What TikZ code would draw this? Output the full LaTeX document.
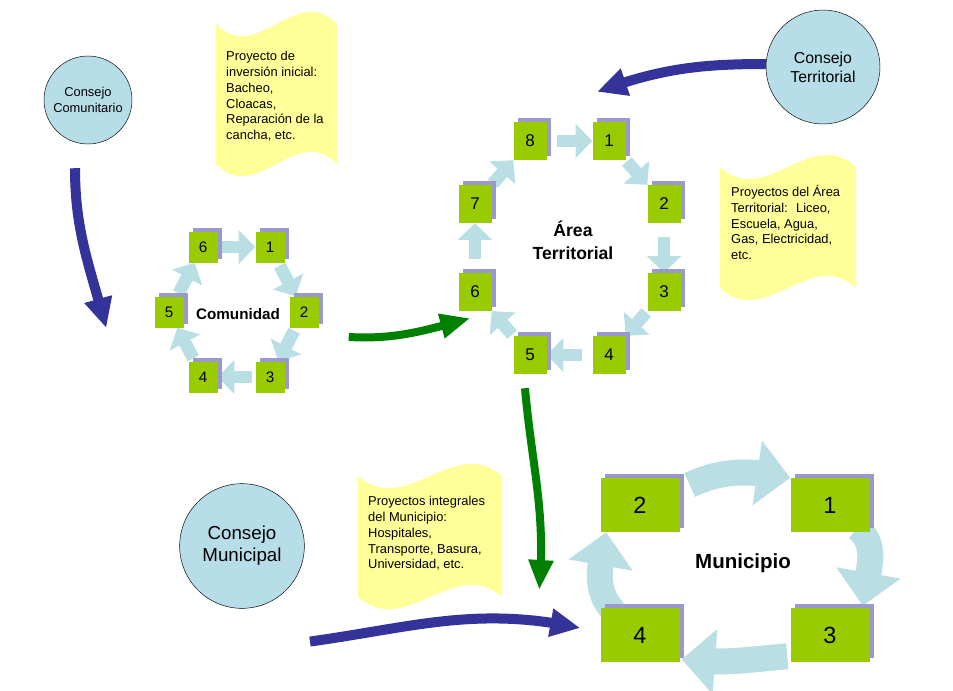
\documentclass[tikz,border=0pt]{standalone}
\usepackage{fontspec}
\setmainfont{Liberation Sans}
\usepackage{tikz}
\usetikzlibrary{arrows.meta, bending, calc, shadows, backgrounds}
\definecolor{boxgreen}{HTML}{99CC00}
\definecolor{boxshade}{HTML}{9999CC}
\definecolor{ringcolor}{HTML}{B9DFE4}
\definecolor{councilcolor}{HTML}{B7DEE8}
\definecolor{notecolor}{HTML}{FFFF99}
\definecolor{flowblue}{HTML}{333399}
\definecolor{flowgreen}{HTML}{008000}

% wavy yellow note: left, right, top, bottom
\newcommand{\wavenote}[4]{%
  \pgfmathsetmacro{\wa}{#1+(#2-#1)/3}%
  \pgfmathsetmacro{\wb}{#1+2*(#2-#1)/3}%
  \fill[notecolor] (#1,#3) .. controls (\wa,#3+42) and (\wb,#3-42) .. (#2,#3)
    -- (#2,#4) .. controls (\wb,#4-42) and (\wa,#4+42) .. (#1,#4) -- cycle;}

\begin{document}
\begin{tikzpicture}[x=0.03cm, y=-0.03cm, font=\fontsize{11}{13.5}\selectfont,
    council/.style={circle, draw=black, thin, fill=councilcolor, align=center, inner sep=0pt},
    numbox/.style={rectangle, fill=boxgreen, inner sep=0pt,
        general shadow={fill=boxshade, shadow xshift=1.2mm, shadow yshift=1.2mm}},
    smallbox/.style={numbox, minimum width=8.7mm, minimum height=9.3mm, font=\fontsize{13}{15}\selectfont},
    areabox/.style={numbox, minimum width=9.9mm, minimum height=11.4mm, font=\fontsize{14.5}{16}\selectfont},
    munibox/.style={numbox, minimum width=23.7mm, minimum height=16.2mm, font=\fontsize{20}{22}\selectfont},
    notetext/.style={anchor=north west, inner sep=0pt, align=left},
    ringarrow/.style={draw=ringcolor, line width=3.8mm, -{Triangle[width=10mm, length=5mm]}},
    bigring/.style={draw=ringcolor, line width=7.8mm, -{Triangle[width=19mm, length=10mm]}},
    bluearrow/.style={draw=flowblue, line width=3mm, -{Triangle[width=8mm, length=9mm]}},
    greenarrow/.style={draw=flowgreen, line width=2.4mm, -{Triangle[width=7mm, length=9mm]}}]
    \useasboundingbox (0,0) rectangle (953,690);

    % Notes
    \wavenote{216}{337}{24}{164}
    \node[notetext] (n1) at (226,51) {Proyecto de\\inversión inicial:\\Bacheo,\\Cloacas,\\Reparación de la\\cancha, etc.};
    \wavenote{720}{856}{167}{288}
    \node[notetext] (n2) at (731,185) {Proyectos del Área\\Territorial:~ Liceo,\\Escuela, Agua,\\Gas, Electricidad,\\etc.};
    \wavenote{358}{502}{476}{597}
    \node[notetext] (n3) at (368,496) {Proyectos integrales\\del Municipio:\\Hospitales,\\Transporte, Basura,\\Universidad, etc.};

    % Councils
    \node[council, minimum size=26.4mm] (cc) at (88,100) {Consejo\\Comunitario};
    \node[council, minimum size=34.2mm, font=\fontsize{13.5}{16}\selectfont] (ct) at (823,67) {Consejo\\Territorial};
    \node[council, minimum size=37.4mm, font=\fontsize{16}{19}\selectfont] (cm) at (242,546) {Consejo\\Municipal};

    % Comunidad cycle
    \node[smallbox] (c6) at (203,247) {6};
    \node[smallbox] (c1) at (270,247) {1};
    \node[smallbox] (c2) at (304,312) {2};
    \node[smallbox] (c3) at (270,377) {3};
    \node[smallbox] (c4) at (203,377) {4};
    \node[smallbox] (c5) at (169,312) {5};
    \node[font=\fontsize{13}{15}\selectfont\bfseries] (comunidad) at (238,314) {Comunidad};

    % Area Territorial cycle
    \node[areabox] (a8) at (530,141) {8};
    \node[areabox] (a1) at (609,141) {1};
    \node[areabox] (a2) at (664,204) {2};
    \node[areabox] (a3) at (664,292) {3};
    \node[areabox] (a4) at (609,355) {4};
    \node[areabox] (a5) at (530,355) {5};
    \node[areabox] (a6) at (475,292) {6};
    \node[areabox] (a7) at (475,204) {7};
    \node[font=\fontsize{15}{19.5}\selectfont\bfseries, align=center] (area) at (573,240) {Área\\Territorial};

    % Municipio cycle
    \node[munibox] (m2) at (640,505) {2};
    \node[munibox] (m1) at (830,505) {1};
    \node[munibox] (m4) at (640,635) {4};
    \node[munibox] (m3) at (830,635) {3};
    \node[font=\fontsize{17.5}{20}\selectfont\bfseries] (municipio) at (743,563) {Municipio};

    % Loose ends of the flows
    \coordinate (ccA) at ($(cc.south)+(-13,24)$);
    \coordinate (ccB) at ($(c5.west)+(-48,16)$);
    \coordinate (ctA) at ($(ct.west)+(0,-3)$);
    \coordinate (ctB) at ($(a1.north)+(-12,-30)$);
    \coordinate (gA) at ($(c2.east)+(30,25)$);
    \coordinate (gB) at ($(a6.south west)+(12,7)$);
    \coordinate (gC) at ($(a5.south)+(-5,14)$);
    \coordinate (gD) at ($(m2.west)+(-61,85)$);
    \coordinate (mbA) at ($(cm.south)+(68,33)$);
    \coordinate (mbB) at ($(m4.west)+(-20,-7)$);

    \begin{scope}[on background layer]
        \foreach \a/\b in {6/1,1/2,2/3,3/4,4/5,5/6}
            \draw[ringarrow, shorten <=1mm] (c\a) -- (c\b);
        \foreach \a/\b/\s in {8/1/3,1/2/0.5,2/3/4,3/4/0.5,4/5/3,5/6/0.5,6/7/4,7/8/0.5}
            \draw[ringarrow, shorten <=\s mm] (a\a) -- (a\b);
        \draw[bigring] ($(m2.east)+(10,-20)$) to[out=25, in=170] (m1.north west);
        \draw[bigring] ($(m1.south east)+(-12,-4)$) to[out=-40, in=85] ($(m3.north east)+(-7,-2)$);
        \draw[bigring] ($(m3.south west)+(-3,-6)$) to[out=185, in=-7] ($(m4.south east)+(2,-3)$);
        \draw[bigring] ($(m4.north west)+(14,4)$) to[out=135, in=-100] ($(m2.south west)+(6,0)$);
    \end{scope}

    % Flows between levels
    \draw[bluearrow] (ccA) to[out=-90, in=105] (ccB);
    \draw[bluearrow] (ctA) to[out=180, in=20] (ctB);
    \draw[greenarrow] (gA) to[out=-3, in=195] (gB);
    \draw[greenarrow] (gC) to[out=-85, in=85] (gD);
    \draw[bluearrow] (mbA) to[out=8, in=168] (mbB);
\end{tikzpicture}
\end{document}
